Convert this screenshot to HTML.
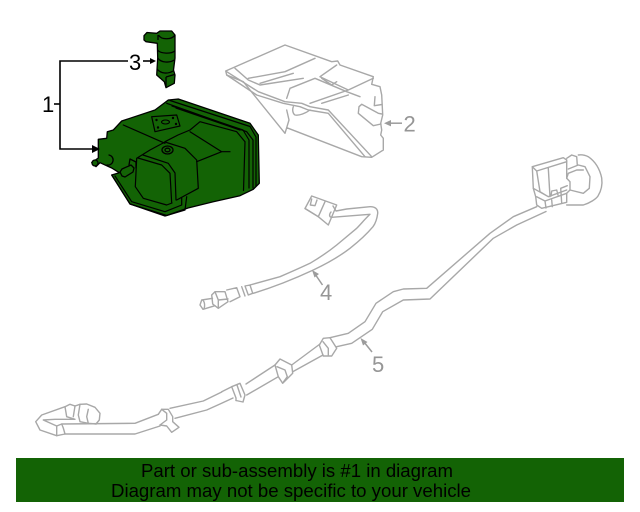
<!DOCTYPE html>
<html><head><meta charset="utf-8"><style>
html,body{margin:0;padding:0;background:#fff}
svg{display:block}
text{font-family:"Liberation Sans",sans-serif}
</style></head><body>
<svg width="640" height="512" viewBox="0 0 640 512" xmlns="http://www.w3.org/2000/svg">
<!-- Part 2 bracket -->
<g fill="none" stroke="#a8a8a8" stroke-width="1.4" stroke-linejoin="round" stroke-linecap="round">
<path d="M225.700 71L285 45L331.700 61.700L337.700 61L340 65L373.300 76.700L371.700 84.300L380 86.700L381.700 95L382.700 115L380.700 123.300L381.700 130L380.700 135L383.300 138.300L383.300 150L371.700 157.300L361.700 156.700L286.700 127.700L285 133.300L243.300 81.700L226.700 75Z"/>
<path d="M226.700 71.700L258.300 91.700L285 101.700L301.700 103.300L310 106.700L328.300 110L371.700 156.700M226.700 75L256.700 95L283.300 103.300L300 106.700L308.300 110L328.300 113.300L365 156.700"/>
<path d="M235 68.300L248.300 80L260 85M248.300 78.300L285 71.700L315 58.300M260 83.300L293.300 73.300M260 85L303.300 78.300M286.700 98.300L290 88.300L315 78.300L346.700 91.700L360 96.700M320 76.700L336.700 65M320 76.700L348.300 90L373.300 78.300M321.700 78.300L331.700 85L336.700 81.700M310 103.300L348.300 90M321.700 103.300L348.300 95"/>
<path d="M293.300 106.700C292 110 293 114 295 115C299 116 306 113 310 110M286.700 110L289 120L286.700 127.700"/>
<path d="M361.700 104.300L359 106.700L358.300 113.300L373.300 125.700L381 124M361.700 104.300L378.300 113.300L382 114M375 96.700L374.300 105.700L382 104.500"/>
</g>
<path d="M389 123.200L402 123.200" stroke="#9c9c9c" stroke-width="1.5"/>
<path d="M384 123.200L391 120L391 126.400Z" fill="#9c9c9c"/>
<text x="403.500" y="131.500" font-size="22" fill="#969696">2</text>

<!-- Part 4 sensor -->
<g fill="none" stroke="#a8a8a8" stroke-width="1.4" stroke-linejoin="round" stroke-linecap="round">
<path d="M305 208.500L311.700 196L336.700 205L328.300 225L318.300 216.700Z"/>
<path d="M325 201.700L318.300 216.700M305 208.500L318.300 216.700M311.700 199L310.300 205L315 205.700L317 200"/>
<path d="M333 206L336 211L346.700 209L370 206.700C375 206.500 378 209 377.700 213.300C377 219 375 224 373 226.700C366 235 358 242 350 248.300C340 256 326 264 313.300 270C294 279 274 287 253.300 293.300"/>
<path d="M331 212C329 214 329 217 331.700 217.300L370 214.300C364 220 361 224 356.700 228.300L336.700 245C328 252 319 258 310 263.300C300 268 291 272 280 276.700L250 285"/>
<path d="M250 285L252.700 293.300L248.300 295L245 286ZM245 286L248.300 295M241.700 286.700L245 296M236.700 287.700L240 296.700L230 301.700M236.700 287.700L226.700 290"/>
<path d="M215 291.700L225 291.700L228 301.700L218.300 308.300L212.700 304L211.700 295ZM215 291.700L218.300 300L228 299M218.300 300L218.300 308"/>
<path d="M212.500 298.300L201.700 300L200 305L203 309.300L215 305.700M203 300C205 303 205 306 204 309"/>
</g>
<path d="M322.500 285L315 274" stroke="#9c9c9c" stroke-width="1.5"/>
<path d="M312 270L319 274L314.500 277.500Z" fill="#9c9c9c"/>
<text x="320" y="300" font-size="22" fill="#969696">4</text>

<!-- Part 5 hose -->
<g fill="none" stroke="#a8a8a8" stroke-width="1.4" stroke-linejoin="round" stroke-linecap="round">
<!-- right part -->
<path d="M536.700 206.700L513.300 216.700L490 233.300L426.700 288.300L403.300 289L393.300 291.700L376 303.300L365 321.700L348.300 333.300L330 337.700"/>
<path d="M546 211.500L516.700 225L493.300 238.300L430 299L403.300 300L382.700 311.700L372.300 329.300L351.700 343.300L336.700 346.700"/>
<path d="M566.700 205L583.300 205C590 203 596 199 598 196C601.700 190 602.500 184 601.700 178C600 170 596 162 588.300 156.700C585 155 581 154.500 578.300 155"/>
<path d="M532.300 166.700L563.300 157.700L566.700 160L566.700 178.300L570 181.700L570 190L566.700 193.300L566.700 202.300L541.700 208.300L536.700 205L535.700 196.700L533.300 188.300Z"/>
<path d="M532.300 166.700L536.700 171L566.700 161.700M536.700 171L540 191.700L548.300 196.700M548.300 168.300L550 196.700M533.300 188.300L548.300 196.700L566.700 190M536.700 196.700L545 201L566.700 193.300M545 201L546 208M551.700 200L552.300 206.700M551 196L551.700 191L556.700 190L558 195M560.700 188.300L567.300 185.700M560.700 188.300L561.700 203"/>
<path d="M566.700 158.300L571.700 155L576.700 156.700L577.300 165M568.300 169L578.300 165L585 166.700L590 176.700L589.300 188.300L583.300 193.300L570 190M566.700 178.300L568.300 173.300L576.700 170L583.300 170"/>
<!-- clip 3 -->
<path d="M319.300 345L323.300 338.300L330 337.700L336.700 348.300L331.700 356L323.300 356Z"/>
<path d="M323 341.700L328.300 348.300L328.300 355"/>
<path d="M320 344L291.700 365M323 355L292.700 371.700"/>
<!-- clip 2 -->
<path d="M275 365L280 359L291.700 365L292.700 373.300L282.700 383.300L278.300 376.700Z"/>
<path d="M277 366.700L285 370L287.300 376.700L282.700 383"/>
<path d="M275 365L246 384M278.300 376.700L246.700 395"/>
<!-- clip 1 -->
<path d="M231.700 386.700L240 383.300L245 395L243 402L236 400.500"/>
<path d="M221.700 391.700L231.700 386.700L236 398L236 400.500M237 385L241 397"/>
<path d="M221.700 392L203.300 401L170 408.300M233 398L220 404L206.700 410L175 418.300"/>
<!-- left clip -->
<path d="M158.300 414.300L161.700 409.300L168.300 409.300L172.700 416.700L172.700 421.700L179 427.300L171.700 432.300L166.700 426L160 425"/>
<path d="M161.700 409.300L166.700 413.300L166.700 420L160 425"/>
<!-- left tube -->
<path d="M158.300 414.300L135 423.300L61.700 424L56.700 426M160 426L135 434L65 434L56.700 435.700L40 430L35.700 421.700L41.700 415L65 406.700L70 404.300L75 406L80 404.300L86.700 404L95 407.300L100 413.300L99.300 420L96 424"/>
<path d="M43.300 420L56.700 426L56.700 435.700M61.700 424L63.300 428L65 434M65 406.700L66.700 416.700L75 419.300L55 419.300L43.300 420M75 406L73.300 416.700M80 404.300L78.300 415L80 421.700L88.300 423.300L96 424M88.300 409.300L86.700 416.700L88.300 423.300"/>
</g>
<path d="M372 352L364 342" stroke="#9c9c9c" stroke-width="1.5"/>
<path d="M360.500 338L367.500 342L363 345.500Z" fill="#9c9c9c"/>
<text x="372" y="372" font-size="22" fill="#969696">5</text>

<!-- Canister -->
<g stroke="#000" stroke-width="1.3" stroke-linejoin="round" stroke-linecap="round">
<path fill="#136305" d="M98.300 139.300L106.700 138.300L107.300 131.700L113.300 130L121.700 121L155 110L168.300 100L178.300 99L250 123.300L258.300 135L259.300 183.300L253.300 189.300L240 195.700L213.300 201.700L188 208L166.700 215.500L130 204L111.700 175L119.300 172.700L111.700 168L100 162.700L96 166.700L91.700 162.700L98.300 158Z"/>
<path fill="none" stroke-width="1.2" d="M123.300 125L165 143.300M165 141.700L178 135L190 130L200 121.700L236.700 131.700L245 141.700L243.500 190.500M190 131.700L221.700 151.700L230 151.700M196.700 161.700L221.700 151.700M166.700 103.300L246.700 131.700L253 140L253 188M170 100.500L250 126.500L256 137L256 186M176 108L240 130M172 106L243 130L249 140L249 188"/>
<path fill="none" stroke-width="1.2" d="M150 150L165 142L185 148.300L196.700 160L198.300 188.300L176.700 200M150 150L136.700 158.300L135.300 186.700L143.300 198.300L166.700 205L172 203M138 158L161.700 165L170 173.300L171.700 203M143 155L168.300 163.300L175 173L176 200M111.700 175L130 204L165 216L185 210L186.700 196.700M115 176L131.700 201.700L165 211.700L181.700 205L181.700 198"/>
<path fill="none" stroke-width="1.2" d="M151.700 116.700L176.700 115L180 126L155 131.700Z"/>
<circle cx="156.500" cy="120" r="1.200" fill="#000" stroke="none"/><circle cx="173" cy="118" r="1.200" fill="#000" stroke="none"/><circle cx="158" cy="127.500" r="1.200" fill="#000" stroke="none"/><circle cx="176" cy="124" r="1.200" fill="#000" stroke="none"/>
<ellipse cx="165.500" cy="122" rx="4" ry="2" fill="none" stroke-width="1.100"/>
<ellipse cx="167.500" cy="150" rx="5.500" ry="4" fill="none"/><ellipse cx="167.500" cy="150" rx="2.500" ry="1.800" fill="none"/>
<path fill="none" d="M107 165A4.500 4.500 0 1 0 109 155"/>
<circle cx="95" cy="163" r="3" fill="#136305"/>
<path fill="#136305" d="M122 169L131 165L134 168L133 172L125 177L122 176L120 172Z"/>
<path fill="none" d="M129 165L130 159L136 162L136 168"/>
</g>

<!-- Part 3 -->
<g stroke="#000" stroke-width="1.300" stroke-linejoin="round">
<path fill="#136305" d="M144 35.700L147 32.500L156.700 33.300L160 31L171.700 31L175 35L175 58L173.500 70L175 75L174.300 83.300L166 87.700L164.300 81.700L156.700 75L157.700 58L157.300 43.300L146 41.700L144 40Z"/>
<path fill="none" d="M158.500 35C161 40 172 40 175 35M157.500 50C161 54 171 54 174.800 51M157.700 58C161 63 170 63 174 60M157 69C161 74 168 74 173 71M166 77L166 87M166 77L174.500 74.500M158 40L158 35"/>
</g>

<!-- Callouts 1, 3 -->
<g stroke="#000" stroke-width="1.600" fill="none">
<path d="M128 61L60 61L60 149L92 149"/>
<path d="M60 104L54 104"/>
<path d="M143 61L152 61"/>
</g>
<path d="M100 149L92 145L92 153Z" fill="#000"/>
<path d="M156 61L150 58L150 64Z" fill="#000"/>
<text x="129" y="70" font-size="22" fill="#000">3</text>
<text x="42" y="112" font-size="22" fill="#000">1</text>

<!-- Banner -->
<rect x="16" y="458" width="608" height="44" fill="#136305"/>
<text x="297" y="477" font-size="18" fill="#000" text-anchor="middle" textLength="312" lengthAdjust="spacingAndGlyphs">Part or sub-assembly is #1 in diagram</text>
<text x="291" y="497" font-size="18" fill="#000" text-anchor="middle" textLength="360" lengthAdjust="spacingAndGlyphs">Diagram may not be specific to your vehicle</text>
</svg>
</body></html>
